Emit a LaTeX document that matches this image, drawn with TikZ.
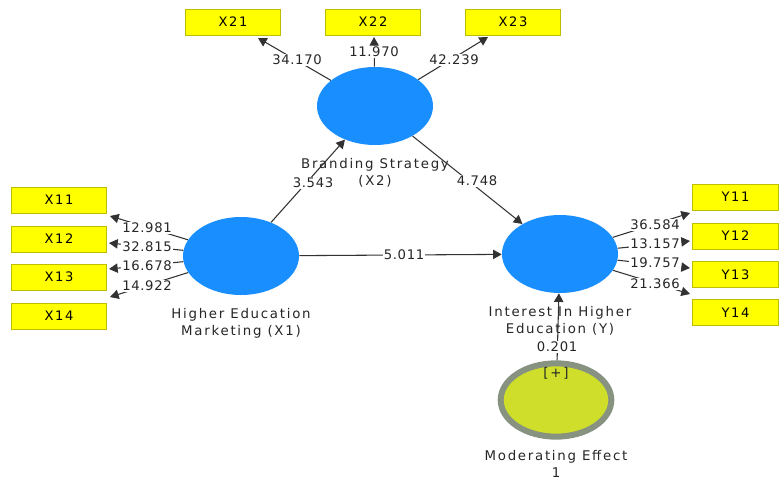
\documentclass[tikz,border=0pt]{standalone}
\usepackage{fontspec}
\setmainfont{DejaVu Sans}
\newfontfamily\widefont{DejaVu Sans}[LetterSpace=13]
\newfontfamily\numfont{DejaVu Sans}[LetterSpace=5]
\usetikzlibrary{shapes.geometric,arrows.meta}
\definecolor{lvblue}{RGB}{24,142,255}
\definecolor{indyel}{RGB}{255,255,0}
\definecolor{indbrd}{RGB}{190,190,0}
\definecolor{modfill}{RGB}{206,222,42}
\definecolor{modbrd}{RGB}{135,146,128}
\definecolor{arrgray}{RGB}{50,50,50}
\tikzset{
  latent/.style={ellipse, fill=lvblue, minimum width=87pt, minimum height=58.5pt, inner sep=0pt},
  indbox/.style={rectangle, fill=indyel, draw=indbrd, line width=0.6pt, minimum width=71pt, minimum height=19.5pt, inner sep=0pt, font=\widefont\fontsize{9.8}{11}\selectfont},
  ybox/.style={indbox, minimum width=64pt},
  arr/.style={draw=arrgray, line width=0.8pt, -{Triangle[length=6.5pt,width=7pt]}},
  val/.style={fill=white, inner sep=0.6pt, font=\numfont\fontsize{9.9}{11}\selectfont, text=black!85},
  lvname/.style={align=center, font=\widefont\fontsize{10}{12.8}\selectfont, text=black!85}
}
\begin{document}
\begin{tikzpicture}[x=0.75pt,y=-0.75pt]
\useasboundingbox (0,0) rectangle (779,479);
% indicator boxes
\node[indbox] (x21) at (233,22) {X21};
\node[indbox] (x22) at (373,22) {X22};
\node[indbox] (x23) at (513,22) {X23};
\node[indbox] (x11) at (59,200) {X11};
\node[indbox] (x12) at (59,239) {X12};
\node[indbox] (x13) at (59,277) {X13};
\node[indbox] (x14) at (59,316) {X14};
\node[ybox] (y11) at (735.5,197) {Y11};
\node[ybox] (y12) at (735.5,236) {Y12};
\node[ybox] (y13) at (735.5,274.5) {Y13};
\node[ybox] (y14) at (735.5,312.5) {Y14};
% latent variables
\node[latent] (x2) at (375,106) {};
\node[latent] (x1) at (241,256) {};
\node[latent] (y) at (560,254) {};
\node[ellipse, fill=modfill, draw=modbrd, line width=4.5pt, minimum width=83pt, minimum height=55pt, inner sep=0pt] (mod) at (556,400) {};
% arrow tips
\coordinate (t21) at (258,38);
\coordinate (t22) at (374,37);
\coordinate (t23) at (488,37);
\coordinate (t11) at (110,216);
\coordinate (t12) at (109,243);
\coordinate (t13) at (109,269);
\coordinate (t14) at (110,297);
\coordinate (u11) at (690,213);
\coordinate (u12) at (690,241);
\coordinate (u13) at (690,268);
\coordinate (u14) at (690,294);
% outer loadings
\draw[arr] (x2) -- (t21);
\draw[arr] (x2) -- (t22);
\draw[arr] (x2) -- (t23);
\draw[arr] (x1) -- (t11);
\draw[arr] (x1) -- (t12);
\draw[arr] (x1) -- (t13);
\draw[arr] (x1) -- (t14);
\draw[arr] (y) -- (u11);
\draw[arr] (y) -- (u12);
\draw[arr] (y) -- (u13);
\draw[arr] (y) -- (u14);
% structural paths
\draw[arr] (x1) -- (x2);
\draw[arr] (x2) -- (y);
\draw[arr] (x1) -- (y);
\draw[arr] (mod) -- (y);
% values
\node[val] (v21) at (297,60) {34.170};
\node[val] (v22) at (374,52) {11.970};
\node[val] (v23) at (454,60) {42.239};
\node[val] (v11) at (147,228) {12.981};
\node[val] (v12) at (147,247) {32.815};
\node[val] (v13) at (147,266) {16.678};
\node[val] (v14) at (147,286) {14.922};
\node[val] (w11) at (655,225) {36.584};
\node[val] (w12) at (655,244) {13.157};
\node[val] (w13) at (655,263) {19.757};
\node[val] (w14) at (655,284) {21.366};
\node[val] (p12) at (313,183) {3.543};
\node[val] (p23) at (477,181) {4.748};
\node[val] (p1y) at (404,255) {5.011};
\node[val] (pm) at (557,347) {0.201};
% names
\node[lvname] (n2) at (375,173) {Branding Strategy\\(X2)};
\node[lvname] (n1) at (241,323) {Higher Education\\Marketing (X1)};
\node[lvname] (ny) at (560,321) {Interest In Higher\\Education (Y)};
\node[lvname] (nm) at (556,373) {[+]};
\node[lvname] (nmod) at (556,464) {Moderating Effect\\1};
\end{tikzpicture}
\end{document}
